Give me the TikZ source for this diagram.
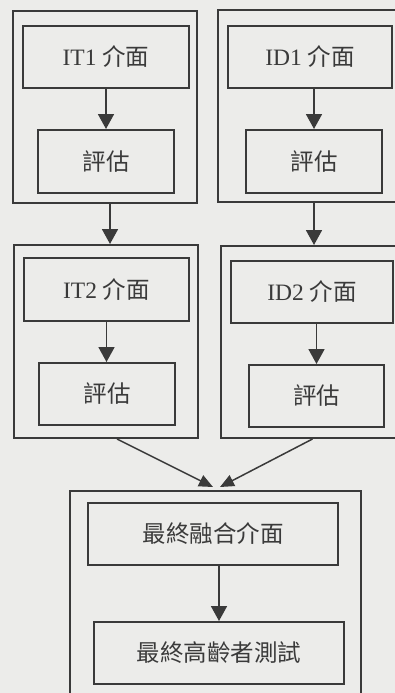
\documentclass[tikz,border=0pt]{standalone}
\usepackage{fontspec}
\setmainfont{Liberation Serif}
\newfontfamily\cjk{Noto Sans CJK TC}
\usetikzlibrary{arrows.meta,calc}
\definecolor{paper}{RGB}{236,236,234}
\definecolor{ink}{RGB}{58,58,58}
\tikzset{
  boxstyle/.style={draw=ink, line width=2pt, inner sep=0pt, text=ink,
    font=\fontsize{23.5}{27}\selectfont},
  framestyle/.style={draw=ink, line width=2pt, inner sep=0pt},
  arr/.style={draw=ink, line width=1.8pt, -{Triangle[width=16pt,length=15pt]}},
  darr/.style={draw=ink, line width=1.5pt, -{Triangle[width=12pt,length=14pt]}}
}
\newcommand{\bx}[6]{% name, x1,y1,x2,y2, text
  \node[boxstyle, minimum width={(#4-#2)*1pt}, minimum height={(#5-#3)*1pt}]
    (#1) at ({(#2+#4)/2},{(#3+#5)/2}) {#6};}
\newcommand{\fr}[5]{%
  \node[framestyle, minimum width={(#4-#2)*1pt}, minimum height={(#5-#3)*1pt}]
    (#1) at ({(#2+#4)/2},{(#3+#5)/2}) {};}
\begin{document}
\begin{tikzpicture}[x=1pt,y=-1pt]
\path[use as bounding box] (0,0) rectangle (395,693);
\clip (0,0) rectangle (395,693);
\fill[paper] (-5,-5) rectangle (400,700);
% frames
\fr{o1L}{13}{11}{197}{203}
\fr{o1R}{218}{10}{420}{202}
\fr{o2L}{14}{245}{198}{438}
\fr{o2R}{221}{246}{420}{438}
\fr{oB}{70}{491}{361}{720}
% boxes
\bx{it1}{23}{26}{189}{88}{IT1 {\cjk 介面}}
\bx{ev1L}{38}{130}{174}{193}{\cjk 評估}
\bx{id1}{228}{26}{392}{88}{ID1 {\cjk 介面}}
\bx{ev1R}{246}{130}{382}{193}{\cjk 評估}
\bx{it2}{24}{258}{189}{321}{IT2 {\cjk 介面}}
\bx{ev2L}{39}{363}{175}{425}{\cjk 評估}
\bx{id2}{231}{261}{393}{323}{ID2 {\cjk 介面}}
\bx{ev2R}{249}{365}{384}{427}{\cjk 評估}
\bx{fuse}{88}{503}{338}{565}{\cjk 最終融合介面}
\bx{test}{94}{622}{344}{684}{\cjk 最終高齡者測試}
% inner arrows
\draw[arr] (it1.south) -- (it1.south |- ev1L.north);
\draw[arr] (id1.south -| ev1R.north) -- (ev1R.north);
\draw[arr] (it2.south) -- (it2.south |- ev2L.north);
\draw[arr] (id2.south -| ev2R.north) -- (ev2R.north);
\draw[arr] (fuse.south -| test.north) -- (test.north);
% tier arrows
\draw[arr] ([xshift=4pt]ev1L.south |- o1L.south) -- ([xshift=4pt]ev1L.south |- o2L.north);
\draw[arr] (ev1R.south |- o1R.south) -- (ev1R.south |- o2R.north);
% merge arrows
\draw[darr] ([xshift=11pt]o2L.south) -- ([xshift=-2.5pt,yshift=3pt]oB.north);
\draw[darr] ([xshift=-4pt]ev2R.south |- o2R.south) -- ([xshift=4.5pt,yshift=3pt]oB.north);
\end{tikzpicture}
\end{document}
